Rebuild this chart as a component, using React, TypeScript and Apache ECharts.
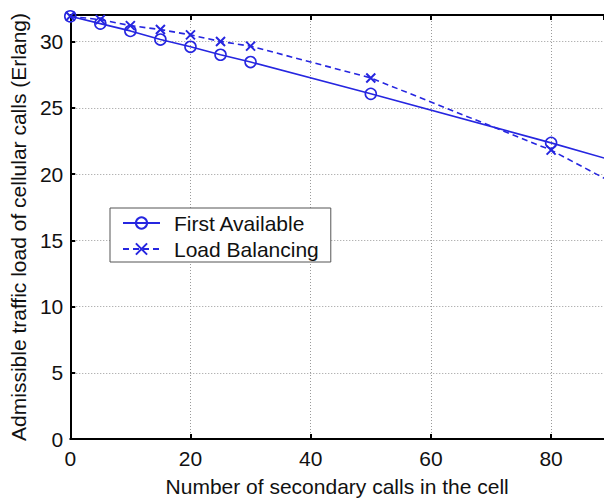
import React, { useEffect, useRef } from "react";
import * as echarts from "echarts";

const xFirst = [0, 5, 10, 15, 20, 25, 30, 50, 80, 100];
const yFirst = [31.9, 31.35, 30.8, 30.15, 29.6, 29.0, 28.45, 26.05, 22.35, 19.75];
const xLoad = [0, 5, 10, 15, 20, 25, 30, 50, 80, 100];
const yLoad = [31.9, 31.65, 31.2, 30.9, 30.5, 30.0, 29.65, 27.25, 21.8, 17.0];
const seriesNames = ["First Available", "Load Balancing"];
const xTitle = "Number of secondary calls in the cell";
const yTitle = "Admissible traffic load of cellular calls (Erlang)";

const BLUE = "#2626e0";
const FONT = "Liberation Sans, Arial, sans-serif";

export default function App() {
  const ref = useRef<HTMLDivElement>(null);
  useEffect(() => {
    if (!ref.current) return;
    const chart = echarts.init(ref.current, null, { renderer: "svg" });
    const gridLine = { show: true, lineStyle: { color: "#9a9a9a", width: 1, type: [1, 2] as any } };
    const axisLine = { show: true, onZero: false, lineStyle: { color: "#000", width: 2 } };
    const tick = { show: true, inside: true, length: 5, lineStyle: { color: "#000", width: 2 } };
    chart.setOption({
      animation: false,
      backgroundColor: "#fff",
      textStyle: { fontFamily: FONT },
      grid: { left: 69, top: 15, bottom: 60, right: 0, containLabel: false },
      legend: {
        orient: "vertical",
        left: 110,
        top: 208,
        width: 223,
        itemWidth: 37,
        itemHeight: 14,
        itemGap: 4,
        padding: [4, 12, 2, 12],
        backgroundColor: "#fff",
        borderColor: "#555",
        borderWidth: 1,
        textStyle: { fontSize: 21, color: "#111", fontFamily: FONT, padding: [0, 0, 0, 9], lineHeight: 22 },
        data: seriesNames,
      },
      xAxis: [
        {
          type: "value",
          min: 0,
          max: 88.8,
          interval: 20,
          name: xTitle,
          nameLocation: "middle",
          nameGap: 37,
          nameTextStyle: { fontSize: 21, color: "#111", fontFamily: FONT },
          axisLine,
          axisTick: tick,
          axisLabel: { fontSize: 21, color: "#111", margin: 9, fontFamily: FONT, showMaxLabel: false },
          splitLine: gridLine,
        },
        {
          type: "value",
          position: "top",
          min: 0,
          max: 88.8,
          interval: 20,
          axisLine,
          axisTick: tick,
          axisLabel: { show: false },
          splitLine: { show: false },
        },
      ],
      yAxis: {
        type: "value",
        min: 0,
        max: 32,
        interval: 5,
        name: yTitle,
        nameLocation: "middle",
        nameGap: 38,
        nameTextStyle: { fontSize: 21, color: "#111", fontFamily: FONT },
        axisLine,
        axisTick: tick,
        axisLabel: { fontSize: 21, color: "#111", margin: 7, showMaxLabel: false, fontFamily: FONT },
        splitLine: gridLine,
      },
      series: [
        {
          name: seriesNames[0],
          type: "line",
          data: xFirst.map((x, i) => [x, yFirst[i]]),
          symbol: "circle",
          symbolSize: 11,
          showAllSymbol: true,
          clip: true,
          lineStyle: { color: BLUE, width: 1.6, type: "solid" },
          itemStyle: { color: "rgba(0,0,0,0)", borderColor: BLUE, borderWidth: 1.6 },
        },
        {
          name: seriesNames[1],
          type: "line",
          data: xLoad.map((x, i) => [x, yLoad[i]]),
          symbol: "path://M0,0L10,10M0,10L10,0",
          symbolSize: 9,
          showAllSymbol: true,
          clip: true,
          lineStyle: { color: BLUE, width: 1.6, type: [6, 4] as any },
          itemStyle: { color: "rgba(0,0,0,0)", borderColor: BLUE, borderWidth: 2 },
        },
      ],
    });
    return () => chart.dispose();
  }, []);
  return (
    <div
      ref={ref}
      style={{ position: "fixed", left: 0, top: 0, width: 604, height: 502, background: "#fff" }}
    />
  );
}
